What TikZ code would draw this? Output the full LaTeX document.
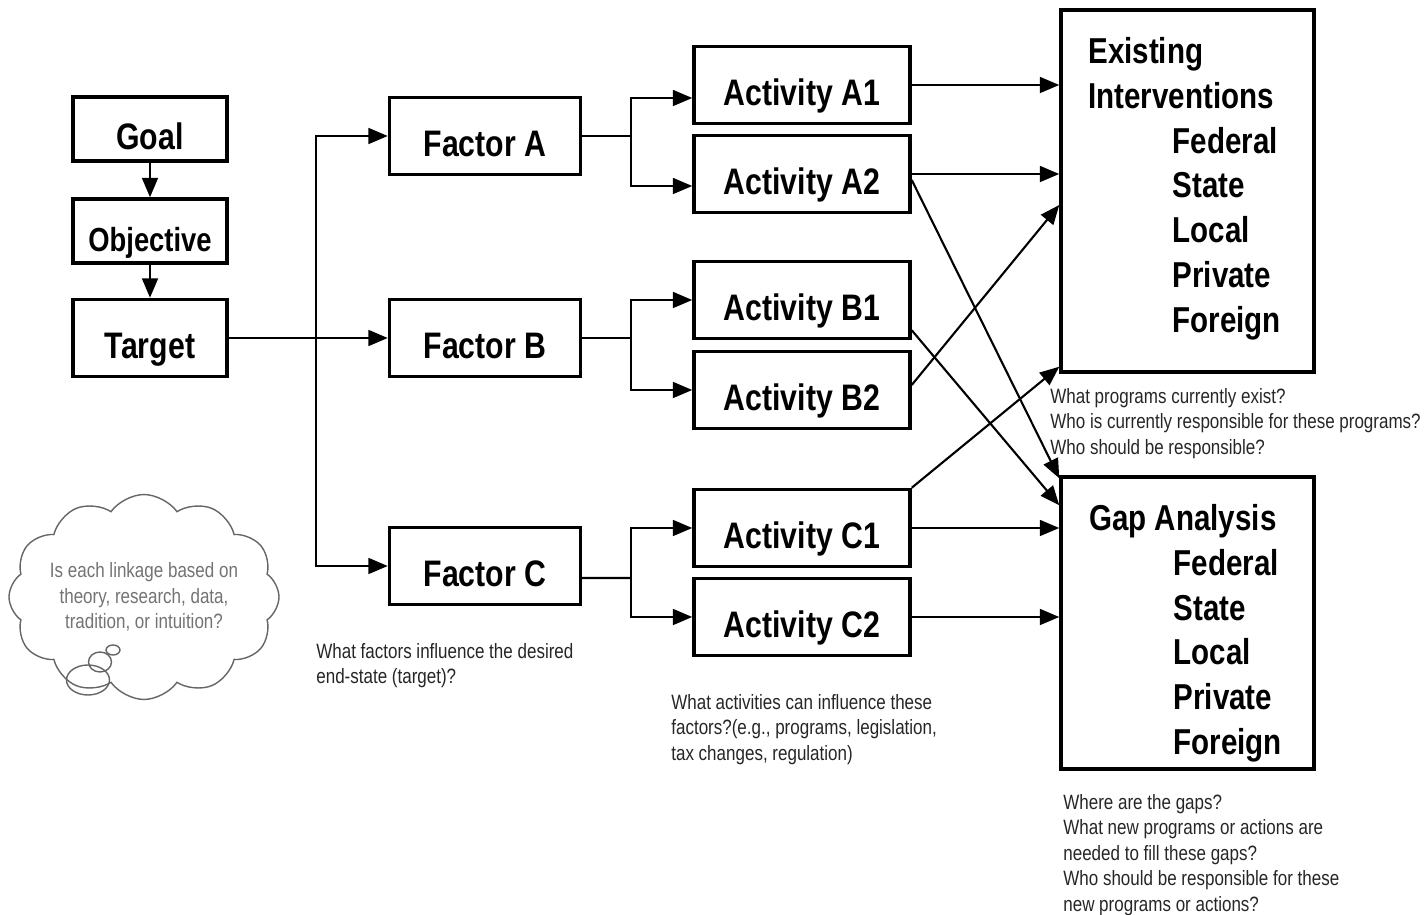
\documentclass[tikz,border=0pt]{standalone}
\usepackage{fontspec}
\setmainfont[FakeStretch=0.82]{Liberation Sans}
\usetikzlibrary{positioning,arrows.meta,shapes.geometric,shapes.symbols}

\begin{document}
\begin{tikzpicture}[x=0.02cm,y=-0.02cm]
          \tikzset{box/.style={draw,line width=2pt,inner sep=0pt,text height=23pt,text depth=0pt,font=\bfseries\fontsize{21}{25}\selectfont}}
          \tikzset{arr/.style={line width=1.2pt,-{Triangle[length=11pt,width=9pt]}}}
          \tikzset{wire/.style={line width=1.2pt}}
          \tikzset{note/.style={align=left,inner sep=0pt,anchor=north west,text=black!85,font=\fontsize{11.8}{14.5}\selectfont}}
          \tikzset{listtxt/.style={align=left,inner sep=0pt,anchor=north west,font=\bfseries\fontsize{20.5}{25.5}\selectfont}}
          \tikzset{bubble/.style={ellipse,draw=black!60,line width=0.8pt,inner sep=0pt}}

          \useasboundingbox (0,0) rectangle (1428,915);

          \node[box,minimum width=3.08cm,minimum height=1.28cm] (goal) at (150,129) {Goal};
          \node[box,minimum width=3.08cm,minimum height=1.28cm,font=\bfseries\fontsize{19}{22}\selectfont] (obj) at (150,231) {Objective};
          \node[box,minimum width=3.08cm,minimum height=1.54cm] (target) at (150,338) {Target};

          \node[box,minimum width=3.82cm,minimum height=1.54cm] (fa) at (485,136) {Factor A};
          \node[box,minimum width=3.82cm,minimum height=1.54cm] (fb) at (485,338) {Factor B};
          \node[box,minimum width=3.82cm,minimum height=1.54cm] (fc) at (485,566) {Factor C};

          \foreach \n/\y in {A1/85,A2/174,B1/300,B2/390,C1/528,C2/617}
            \node[box,minimum width=4.32cm,minimum height=1.54cm] (\n) at (802,\y) {Activity \n};

          \node[box,minimum width=5.06cm,minimum height=7.24cm] (ex) at (1187.5,191) {};
          \node[box,minimum width=5.06cm,minimum height=5.84cm] (gap) at (1187.5,623) {};
          \node[listtxt] (extxt) at (1088,37) {Existing\\Interventions\\\hspace*{48pt}Federal\\\hspace*{48pt}State\\\hspace*{48pt}Local\\\hspace*{48pt}Private\\\hspace*{48pt}Foreign};
          \node[listtxt] (gaptxt) at (1089,504) {Gap Analysis\\\hspace*{48pt}Federal\\\hspace*{48pt}State\\\hspace*{48pt}Local\\\hspace*{48pt}Private\\\hspace*{48pt}Foreign};

          \draw[arr] (goal) -- (obj);
          \draw[arr] (obj) -- (target);
          \draw[arr] (target) -- (fb);
          \coordinate (split) at (316,338);
          \draw[arr] (split) |- (fa);
          \draw[arr] (split) |- (fc);

          \coordinate (ja) at (631,136);
          \coordinate (jb) at (631,338);
          \coordinate (jc) at (631,578);
          \draw[wire] (fa) -- (ja);
          \draw[wire] (fb) -- (jb);
          \draw[wire] ([yshift=-0.24cm]fc.east) -- (jc);
          \draw[arr] (ja) |- ([yshift=-0.26cm]A1.west);
          \draw[arr] (ja) |- ([yshift=-0.24cm]A2.west);
          \draw[arr] (jb) |- (B1);
          \draw[arr] (jb) |- (B2);
          \draw[arr] (jc) |- (C1);
          \draw[arr] (jc) |- (C2);

          \draw[arr] (A1) -- (A1 -| ex.west);
          \draw[arr] (A2) -- (A2 -| ex.west);
          \draw[arr] ([yshift=0.1cm]B2.east) -- ([yshift=-0.28cm]ex.west);
          \draw[arr] (C1.north east) -- ([yshift=0.14cm]ex.south west);
          \draw[arr] ([yshift=-0.12cm]A2.east) -- ([yshift=-0.06cm]gap.north west);
          \draw[arr] ([yshift=0.2cm]B1.south east) -- ([yshift=-0.6cm]gap.north west);
          \draw[arr] (C1) -- (C1 -| gap.west);
          \draw[arr] (C2) -- (C2 -| gap.west);

          \node[note] (exnote) at (1050,388) {What programs currently exist?\\Who is currently responsible for these programs?\\Who should be responsible?};
          \node[note] (fnote) at (316,643) {What factors influence the desired\\end-state (target)?};
          \node[note] (anote) at (671,694) {What activities can influence these\\factors?(e.g., programs, legislation,\\tax changes, regulation)};
          \node[note] (gapnote) at (1063,794) {Where are the gaps?\\What new programs or actions are\\needed to fill these gaps?\\Who should be responsible for these\\new programs or actions?};

          \node[cloud,draw=black!60,line width=0.8pt,cloud puffs=12,cloud puff arc=110,cloud ignores aspect,inner sep=0pt,minimum width=5.2cm,minimum height=4.1cm,align=center,text=black!55,font=\fontsize{11.8}{14.5}\selectfont] (cloud) at (144,597) {Is each linkage based on\\theory, research, data,\\tradition, or intuition?};
          \node[bubble,minimum width=0.28cm,minimum height=0.2cm] (bub1) at (113,650) {};
          \node[bubble,minimum width=0.46cm,minimum height=0.4cm] (bub2) at (100,662) {};
          \node[bubble,minimum width=0.86cm,minimum height=0.6cm] (bub3) at (88,680) {};
        \end{tikzpicture}
\end{document}
